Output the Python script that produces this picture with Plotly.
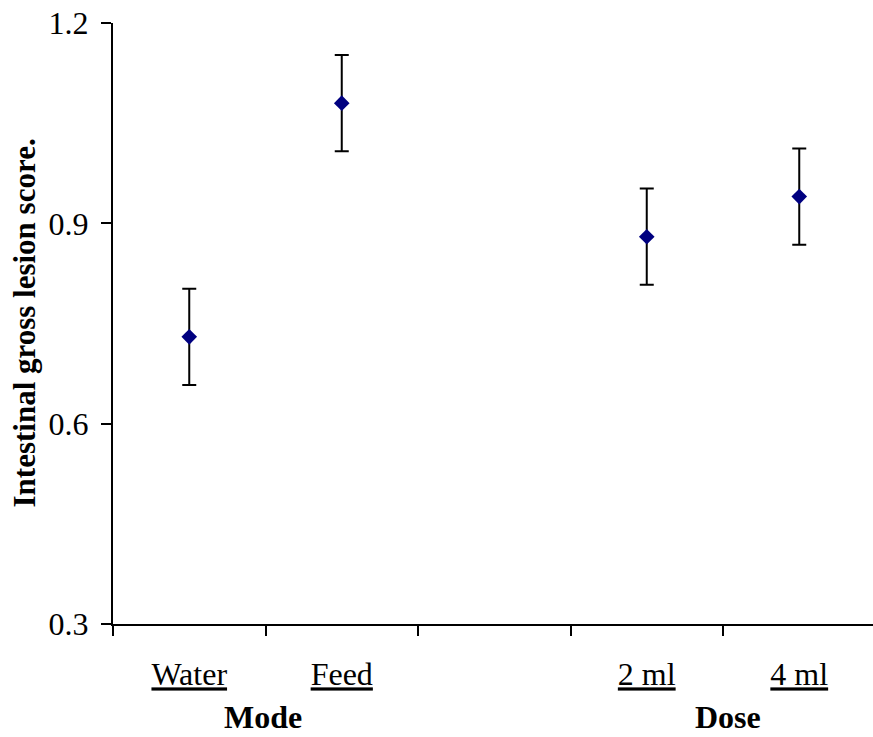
import plotly.graph_objects as go

# Data
categories = ["Water", "Feed", "2 ml", "4 ml"]
positions = [0, 1, 3, 4]          # slot index on the category axis (slot 2 is empty)
means = [0.73, 1.08, 0.88, 0.94]
errors = [0.072, 0.072, 0.072, 0.072]
group_labels = ["Mode", "Dose"]
group_centers = [0.5, 3.5]
y_ticks = [0.3, 0.6, 0.9, 1.2]
slot_bounds = [-0.5, 0.5, 1.5, 2.5, 3.5]

FONT = "Liberation Serif, Times New Roman, serif"

fig = go.Figure()
fig.add_trace(go.Scatter(
    x=positions, y=means, mode="markers",
    marker=dict(symbol="diamond", size=12, color="#000080"),
    error_y=dict(type="data", array=errors, visible=True,
                 color="black", thickness=2, width=7),
    showlegend=False,
))

fig.update_layout(
    width=873, height=737,
    margin=dict(l=113, r=0, t=23, b=113),
    paper_bgcolor="white", plot_bgcolor="white",
    font=dict(family=FONT, size=32, color="black"),
)

fig.update_xaxes(
    range=[-0.5, -0.5 + 760 / 152.5],
    tickmode="array", tickvals=positions,
    ticktext=[f"<u>{c}</u>" for c in categories],
    ticks="", ticklabelstandoff=21,
    showline=True, linecolor="black", linewidth=2,
    showgrid=False, zeroline=False,
    minor=dict(tickmode="array", tickvals=slot_bounds, ticks="outside",
               ticklen=10, tickwidth=2, tickcolor="black", showgrid=False),
    tickfont=dict(family=FONT, size=32),
)

fig.update_yaxes(
    range=[0.3, 1.2],
    tickmode="array", tickvals=y_ticks,
    ticktext=[f"{v:.1f}" for v in y_ticks],
    ticks="outside", ticklen=10, tickwidth=2, tickcolor="black",
    ticklabelstandoff=6,
    showline=True, linecolor="black", linewidth=2,
    showgrid=False, zeroline=False,
    tickfont=dict(family=FONT, size=32),
)

for lab, xc, xs in zip(group_labels, group_centers, [-3, 5]):
    fig.add_annotation(
        x=xc, xref="x", y=-(717 - 624) / 601, yref="paper",
        text=f"<b>{lab}</b>", showarrow=False,
        xanchor="center", yanchor="middle", xshift=xs,
        font=dict(family=FONT, size=32, color="black"),
    )

fig.add_annotation(
    x=-(113 - 24) / 760, xref="paper", y=0.5, yref="paper",
    text="<b>Intestinal gross lesion score.</b>", textangle=-90,
    showarrow=False, xanchor="center", yanchor="middle",
    font=dict(family=FONT, size=31, color="black"),
)

fig.write_html("out.html")
